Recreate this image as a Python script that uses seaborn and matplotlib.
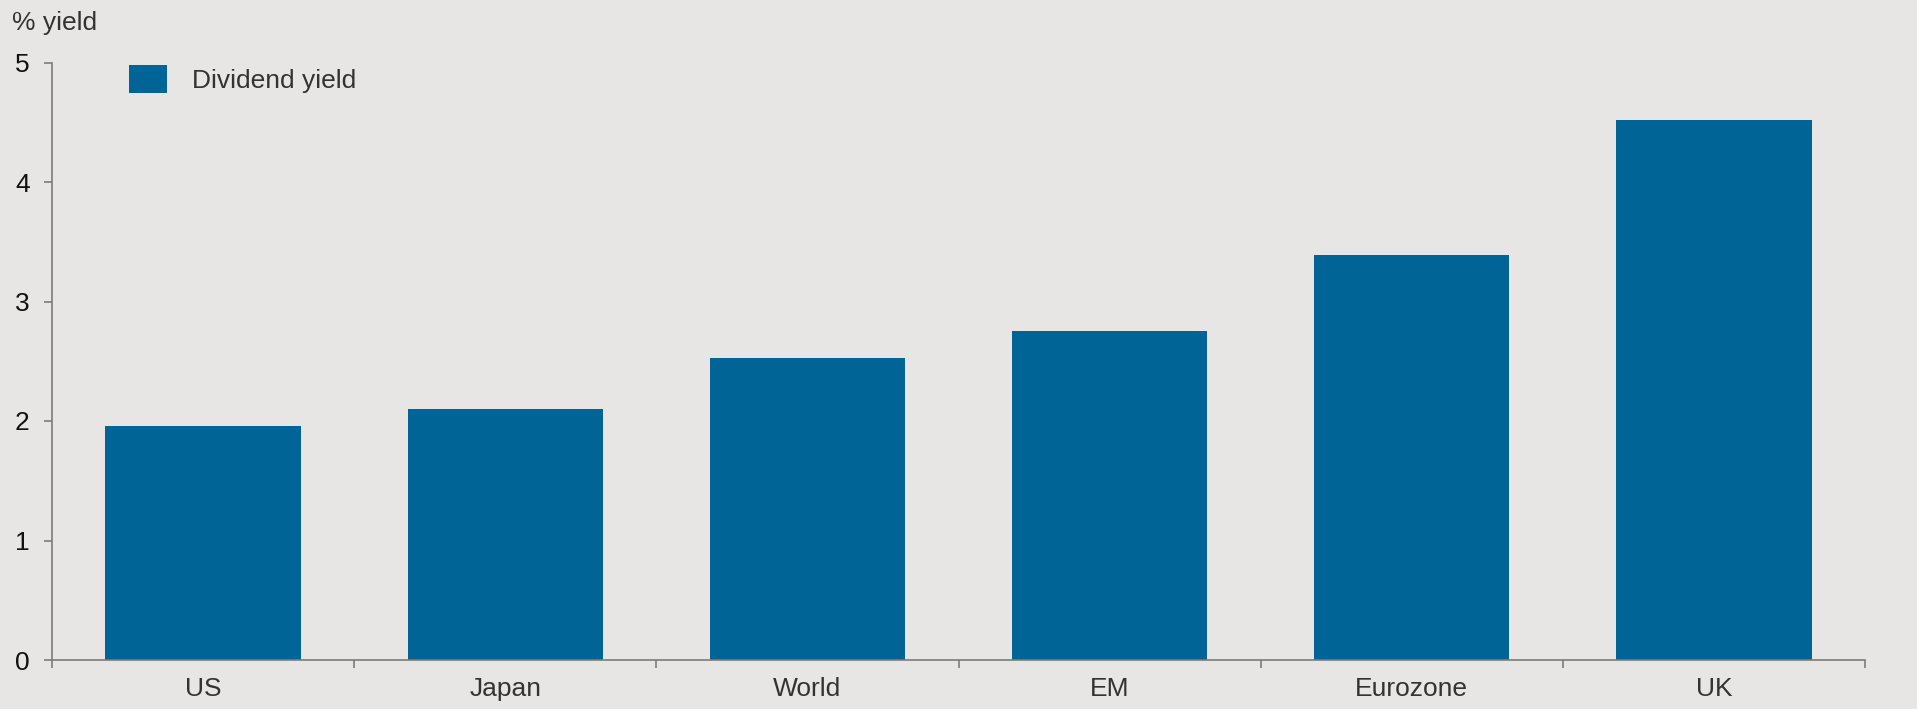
import matplotlib
matplotlib.use("Agg")
import matplotlib.pyplot as plt
import seaborn as sns
import pandas as pd

categories = ["US", "Japan", "World", "EM", "Eurozone", "UK"]
values = [1.96, 2.10, 2.53, 2.75, 3.39, 4.52]
series_name = "Dividend yield"
y_ticks = [0, 1, 2, 3, 4, 5]

sns.set_style("white")
plt.rcParams["font.family"] = ["Liberation Sans", "DejaVu Sans"]

bg = "#E8E6E4"
bar_color = "#006496"
axis_color = "#7f7a75"
fs = 19

df = pd.DataFrame({"region": categories, "yield": values})

fig = plt.figure(figsize=(19.17, 7.09), dpi=100, facecolor=bg)
ax = fig.add_axes([52/1917, 49/709, (1865-52)/1917, (660-62.5)/709])
ax.set_facecolor(bg)

sns.barplot(data=df, x="region", y="yield", color=bar_color, width=0.646,
            saturation=1, ax=ax, label=series_name, linewidth=0, edgecolor=bar_color)

ax.set_xlim(-0.5, len(categories) - 0.5)
ax.set_ylim(0, 5)
ax.set_yticks(y_ticks)
ax.set_yticklabels([str(t) for t in y_ticks], fontsize=fs, color="#111111")

# major ticks at boundaries, labels at centers
ax.set_xticks([i - 0.5 for i in range(len(categories) + 1)])
ax.set_xticklabels([])
ax.set_xticks(range(len(categories)), minor=True)
ax.set_xticklabels(categories, minor=True, fontsize=fs, color="#333333")
ax.tick_params(axis="x", which="minor", bottom=True, length=0, pad=12)
ax.tick_params(axis="x", which="major", bottom=True, length=6, width=1.2,
               color=axis_color, direction="out")
ax.tick_params(axis="y", left=True, length=6, width=1.2, color=axis_color,
               direction="out", pad=10)

for s in ["top", "right"]:
    ax.spines[s].set_visible(False)
for s in ["left", "bottom"]:
    ax.spines[s].set_color(axis_color)
    ax.spines[s].set_linewidth(1.2)

ax.set_xlabel("")
ax.set_ylabel("")

fig.text(12/1917, 1 - 23/709, "% yield", fontsize=fs, color="#333333", va="center", ha="left")

leg = ax.legend(loc="upper left", bbox_to_anchor=((129-52)/1813, (660-65)/597.5),
                frameon=False, fontsize=fs, handlelength=1.45, handleheight=1.28,
                handletextpad=0.95, borderpad=0, borderaxespad=0)
for t in leg.get_texts():
    t.set_color("#333333")

fig.savefig("out.png", dpi=100, facecolor=bg)
